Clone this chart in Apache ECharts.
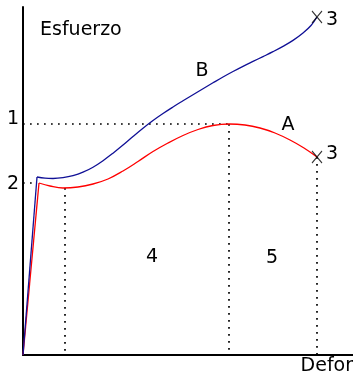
<!DOCTYPE html>
<html><head><meta charset="utf-8">
<script src="https://cdn.jsdelivr.net/npm/echarts@6/dist/echarts.min.js"></script>
<style>html,body{margin:0;padding:0;background:#fff}#c{width:353px;height:373px}</style>
</head><body><div id="c"></div>
<script>
// Curve A (red): elastic segment then plastic curve
const curveA_elastic = [[0,0],[16,172]];
const curveA = [[16,172],[27,169],[40,167],[55,168],[70,171],[85,176],[100,184],[115,193.5],[130,203.5],[145,212],[160,219.5],[175,225.5],[190,229.5],[206,231],[222,230],[237,227],[252,222],[267,215],[281,207],[294,198]];
// Curve B (blue)
const curveB_elastic = [[0,0],[14,178]];
const curveB = [[14,178],[22,176.8],[30,176.5],[40,177.3],[50,179.3],[60,182.8],[70,187.8],[80,194.3],[90,201.8],[100,209.9],[110,218.5],[120,226.8],[130,234.5],[140,241.5],[150,248],[160,254.2],[170,260.3],[180,266.3],[190,272.2],[200,278],[210,283.5],[220,288.7],[230,293.6],[240,298.4],[250,303.3],[260,308.6],[270,314.6],[280,322],[288,329.5],[294,338]];
// End points (fracture, marked X)
const endPoints = [[294,338],[294,198]];
// Guide lines
const guideH1 = [[0,231],[206,231]];
const guideH2 = [[0,172],[14,172]];
const guideV1 = [[42,167],[42,0]];
const guideV2 = [[206,231],[206,0]];
const guideV3 = [[294,198],[294,0]];

const chart = echarts.init(document.getElementById('c'), null, {renderer:'canvas'});
const F = 'DejaVu Sans';
const dotted = {color:'#000', width:1.7, type:[1.7,5.3]};
function guide(d){return {type:'line', data:d, symbol:'none', silent:true, lineStyle:dotted, z:1};}
function curve(d, c, smooth){return {type:'line', data:d, symbol:'none', smooth:smooth, lineStyle:{color:c, width:1.3}, z:3};}
function txt(t, x, y, align){return {type:'text', x:x, y:y, style:{text:t, fontFamily:F, fontSize:19, fill:'#000', textAlign:align||'center', textVerticalAlign:'middle'}};}
chart.setOption({
  animation:false,
  grid:{left:23, right:0, top:7, bottom:18},
  xAxis:{type:'value', min:0, max:330, axisLine:{show:true, onZero:false, lineStyle:{color:'#000', width:2}}, axisTick:{show:false}, axisLabel:{show:false}, splitLine:{show:false}},
  yAxis:{type:'value', min:0, max:348, axisLine:{show:true, onZero:false, lineStyle:{color:'#000', width:2}}, axisTick:{show:false}, axisLabel:{show:false}, splitLine:{show:false}},
  series:[
    guide(guideH1), guide(guideH2), guide(guideV1), guide(guideV2), guide(guideV3),
    curve(curveA_elastic, '#ff0000', false), curve(curveA, '#ff0000', 0.4),
    curve(curveB_elastic, '#101096', false), curve(curveB, '#101096', 0.4),
    {type:'scatter', data:endPoints, symbol:'path://M0 0L10 12M10 0L0 12', symbolSize:[10,12], itemStyle:{color:'none', borderColor:'#000', borderWidth:1.1}, z:5}
  ],
  graphic:[
    txt('Esfuerzo', 40, 30, 'left'),
    txt('1', 13, 119), txt('2', 13, 184),
    txt('3', 332, 20), txt('3', 332, 154),
    txt('B', 202, 71), txt('A', 288, 125),
    txt('4', 152, 257), txt('5', 272, 258),
    txt('Defor', 353, 366, 'right')
  ]
});
</script></body></html>
